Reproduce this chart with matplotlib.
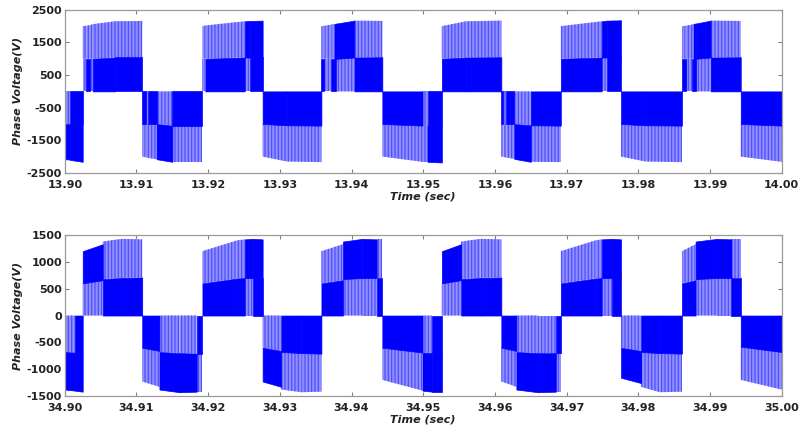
import numpy as np
import matplotlib
matplotlib.use('Agg')
import matplotlib.pyplot as plt

# ---------------- data: top panel (13.90 - 14.00 s) ----------------
# each segment: start/end time, shade of inner band (0..mid) and outer band (mid..peak)
top_t0 = [13.9000, 13.9007, 13.9025, 13.9030, 13.9035, 13.9039, 13.9070,
          13.9108, 13.9113, 13.9116, 13.9128, 13.9150,
          13.9192, 13.9196, 13.9251, 13.9258,
          13.9276, 13.9310,
          13.9358, 13.9362, 13.9372, 13.9376, 13.9379, 13.9404,
          13.9443, 13.9499, 13.9506,
          13.9526, 13.9560,
          13.9609, 13.9612, 13.9616, 13.9627, 13.9650,
          13.9692, 13.9749, 13.9756,
          13.9776, 13.9810,
          13.9861, 13.9866, 13.9875, 13.9877, 13.9880, 13.9901,
          13.9943]
top_t1 = [13.9007, 13.9025, 13.9030, 13.9035, 13.9039, 13.9070, 13.9108,
          13.9113, 13.9116, 13.9128, 13.9150, 13.9192,
          13.9196, 13.9251, 13.9258, 13.9276,
          13.9310, 13.9358,
          13.9362, 13.9372, 13.9376, 13.9379, 13.9404, 13.9443,
          13.9499, 13.9506, 13.9526,
          13.9560, 13.9609,
          13.9612, 13.9616, 13.9627, 13.9650, 13.9692,
          13.9749, 13.9756, 13.9776,
          13.9810, 13.9861,
          13.9866, 13.9875, 13.9877, 13.9880, 13.9901, 13.9943,
          14.0000]
top_inner = ['L', 'D', 'L', 'D', 'L', 'D', 'D',
             'D', 'L', 'D', 'L', 'D',
             'L', 'D', 'L', 'D',
             'D', 'D',
             'D', 'L', 'D', 'D', 'L', 'D',
             'D', 'L', 'D',
             'D', 'D',
             'D', 'L', 'D', 'L', 'D',
             'D', 'L', 'D',
             'D', 'D',
             'D', 'L', 'D', 'D', 'L', 'D',
             'D']
top_outer = ['D', 'D', 'L', 'L', 'L', 'L', 'L',
             'L', 'L', 'L', 'D', 'L',
             'L', 'L', 'D', 'D',
             'L', 'L',
             'L', 'L', 'L', 'D', 'D', 'L',
             'L', 'L', 'D',
             'L', 'L',
             'L', 'L', 'L', 'D', 'L',
             'L', 'D', 'D',
             'L', 'L',
             'L', 'L', 'L', 'D', 'D', 'L',
             'L']
top_mid0 = [-1000, -1000, 1000, 1000, 1000, 1000, 1040,
            -1000, -1000, -1000, -1000, -1050,
            1000, 1000, 1040, 1040,
            -1000, -1040,
            1000, 1000, 1000, 1000, 1000, 1040,
            -1000, -1050, -1050,
            1000, 1040,
            -1000, -1000, -1000, -1000, -1040,
            1000, 1040, 1040,
            -1000, -1040,
            1000, 1000, 1000, 1000, 1000, 1040,
            -1000]
top_mid1 = [-1000, -1000, 1000, 1000, 1000, 1040, 1040,
            -1000, -1000, -1000, -1050, -1050,
            1000, 1040, 1040, 1040,
            -1040, -1050,
            1000, 1000, 1000, 1000, 1040, 1050,
            -1050, -1050, -1050,
            1040, 1050,
            -1000, -1000, -1000, -1040, -1050,
            1040, 1040, 1040,
            -1040, -1050,
            1000, 1000, 1000, 1000, 1040, 1050,
            -1050]
top_pk0 = [-2080, -2100, 2000, 2010, 2030, 2060, 2150,
           -2000, -2020, -2040, -2080, -2160,
           2000, 2020, 2150, 2160,
           -2000, -2150,
           2000, 2010, 2050, 2070, 2080, 2170,
           -2000, -2160, -2160,
           2000, 2150,
           -2000, -2010, -2030, -2070, -2160,
           2000, 2150, 2170,
           -2000, -2150,
           2000, 2010, 2050, 2070, 2080, 2170,
           -2000]
top_pk1 = [-2090, -2160, 2010, 2030, 2060, 2150, 2160,
           -2020, -2040, -2080, -2160, -2160,
           2020, 2150, 2160, 2170,
           -2150, -2170,
           2010, 2050, 2070, 2080, 2170, 2160,
           -2160, -2160, -2180,
           2150, 2170,
           -2010, -2030, -2070, -2160, -2170,
           2150, 2170, 2180,
           -2150, -2170,
           2010, 2050, 2070, 2080, 2170, 2160,
           -2160]

# ---------------- data: bottom panel (34.90 - 35.00 s) ----------------
bot_t0 = [34.9000, 34.9014,
          34.9025, 34.9053, 34.9080,
          34.9108, 34.9132, 34.9160, 34.9184,
          34.9192, 34.9240, 34.9251, 34.9262,
          34.9276, 34.9302, 34.9330,
          34.9358, 34.9388, 34.9415, 34.9435,
          34.9443, 34.9499, 34.9512,
          34.9526, 34.9553, 34.9580,
          34.9609, 34.9630, 34.9660, 34.9685,
          34.9692, 34.9740, 34.9749, 34.9763,
          34.9776, 34.9804, 34.9830,
          34.9861, 34.9880, 34.9910, 34.9930,
          34.9943]
bot_t1 = [34.9014, 34.9025,
          34.9053, 34.9080, 34.9108,
          34.9132, 34.9160, 34.9184, 34.9192,
          34.9240, 34.9251, 34.9262, 34.9276,
          34.9302, 34.9330, 34.9358,
          34.9388, 34.9415, 34.9435, 34.9443,
          34.9499, 34.9512, 34.9526,
          34.9553, 34.9580, 34.9609,
          34.9630, 34.9660, 34.9685, 34.9692,
          34.9740, 34.9749, 34.9763, 34.9776,
          34.9804, 34.9830, 34.9861,
          34.9880, 34.9910, 34.9930, 34.9943,
          35.0000]
bot_inner = ['L', 'D',
             'L', 'D', 'D',
             'D', 'L', 'L', 'D',
             'D', 'D', 'L', 'D',
             'L', 'D', 'D',
             'D', 'L', 'L', 'D',
             'D', 'L', 'D',
             'L', 'D', 'D',
             'D', 'L', 'L', 'D',
             'D', 'D', 'L', 'D',
             'L', 'D', 'D',
             'D', 'L', 'L', 'D',
             'D']
bot_outer = ['D', 'D',
             'D', 'L', 'L',
             'L', 'D', 'D', 'L',
             'L', 'L', 'D', 'D',
             'D', 'L', 'L',
             'L', 'D', 'D', 'L',
             'L', 'D', 'D',
             'D', 'L', 'L',
             'L', 'D', 'D', 'L',
             'L', 'L', 'D', 'D',
             'D', 'L', 'L',
             'L', 'D', 'D', 'L',
             'L']
bot_mid0 = [-680, -690,
            600, 680, 700,
            -600, -680, -700, -710,
            600, 690, 700, 700,
            -600, -680, -700,
            600, 680, 700, 700,
            -600, -690, -700,
            600, 680, 700,
            -600, -680, -700, -700,
            600, 690, 700, 700,
            -600, -680, -700,
            600, 680, 700, 700,
            -580]
bot_mid1 = [-690, -700,
            660, 700, 710,
            -660, -700, -710, -710,
            690, 700, 700, 700,
            -660, -700, -710,
            660, 700, 700, 700,
            -690, -700, -700,
            660, 700, 710,
            -660, -700, -700, -700,
            690, 700, 700, 700,
            -660, -700, -710,
            660, 700, 700, 700,
            -680]
bot_pk0 = [-1380, -1400,
           1200, 1380, 1430,
           -1230, -1380, -1430, -1420,
           1200, 1400, 1420, 1430,
           -1230, -1380, -1430,
           1200, 1380, 1430, 1420,
           -1200, -1400, -1420,
           1200, 1380, 1430,
           -1230, -1380, -1430, -1420,
           1200, 1400, 1420, 1430,
           -1160, -1330, -1430,
           1200, 1380, 1430, 1420,
           -1200]
bot_pk1 = [-1400, -1420,
           1330, 1430, 1420,
           -1330, -1430, -1420, -1420,
           1400, 1420, 1430, 1420,
           -1330, -1430, -1420,
           1330, 1430, 1420, 1420,
           -1400, -1420, -1420,
           1330, 1430, 1420,
           -1330, -1430, -1420, -1420,
           1400, 1420, 1430, 1420,
           -1260, -1430, -1420,
           1330, 1430, 1420, 1420,
           -1380]

top_xticks = [13.90, 13.91, 13.92, 13.93, 13.94, 13.95, 13.96, 13.97, 13.98, 13.99, 14.00]
top_yticks = [-2500, -1500, -500, 500, 1500, 2500]
bot_xticks = [34.90, 34.91, 34.92, 34.93, 34.94, 34.95, 34.96, 34.97, 34.98, 34.99, 35.00]
bot_yticks = [-1500, -1000, -500, 0, 500, 1000, 1500]

DARK = '#0000ff'
LIGHT = '#8e8eff'
HATCH = '#4a4aff'

plt.rcParams['hatch.linewidth'] = 0.8

fig = plt.figure(figsize=(8.0, 4.29), dpi=100)


def draw_panel(ax, t0, t1, inner, outer, m0, m1, p0, p1):
    for i in range(len(t0)):
        x = [t0[i], t1[i]]
        bands = ((inner[i], [0, 0], [m0[i], m1[i]]),
                 (outer[i], [m0[i], m1[i]], [p0[i], p1[i]]))
        for shade, lo, hi in bands:
            if shade == 'D':
                ax.fill_between(x, lo, hi, facecolor=DARK, edgecolor=DARK,
                                linewidth=0.5, zorder=3)
            else:
                ax.fill_between(x, lo, hi, facecolor=LIGHT, edgecolor=HATCH,
                                hatch='|||||', linewidth=0, zorder=2)


def style(ax, xticks, yticks, ylim):
    ax.set_xlim(xticks[0], xticks[-1])
    ax.set_ylim(*ylim)
    ax.set_xticks(xticks)
    ax.set_xticklabels(['%.2f' % v for v in xticks])
    ax.set_yticks(yticks)
    ax.set_yticklabels(['%d' % v for v in yticks])
    ax.tick_params(direction='in', top=True, right=True, length=3,
                   width=0.8, color='#808080', labelsize=8,
                   labelcolor='#222222')
    ax.tick_params(axis='x', pad=5)
    ax.tick_params(axis='y', pad=2)
    for lbl in ax.get_xticklabels() + ax.get_yticklabels():
        lbl.set_fontweight('bold')
    for sp in ax.spines.values():
        sp.set_color('#9a9a9a')
        sp.set_linewidth(0.9)
        sp.set_zorder(5)
    ax.set_xlabel('Time (sec)', fontsize=8, fontweight='bold',
                  fontstyle='italic', labelpad=1, color='#222222')
    ax.set_ylabel('Phase Voltage(V)', fontsize=8, fontweight='bold',
                  fontstyle='italic', labelpad=3, color='#222222')


ax1 = fig.add_axes([0.081, 0.597, 0.896, 0.380])
draw_panel(ax1, top_t0, top_t1, top_inner, top_outer,
           top_mid0, top_mid1, top_pk0, top_pk1)
style(ax1, top_xticks, top_yticks, (-2500, 2500))

ax2 = fig.add_axes([0.081, 0.077, 0.896, 0.375])
draw_panel(ax2, bot_t0, bot_t1, bot_inner, bot_outer,
           bot_mid0, bot_mid1, bot_pk0, bot_pk1)
style(ax2, bot_xticks, bot_yticks, (-1500, 1500))

fig.savefig('out.png', dpi=100)
